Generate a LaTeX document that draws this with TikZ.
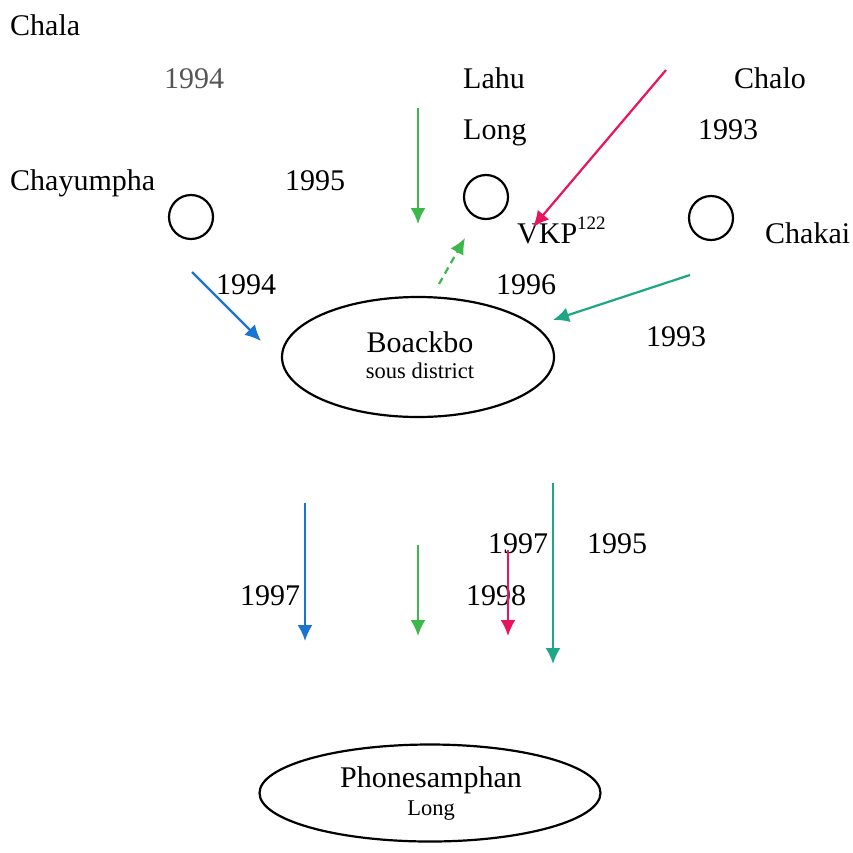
\documentclass[tikz,border=0pt]{standalone}
\usepackage{fontspec}
\setmainfont{Liberation Serif}
\usetikzlibrary{arrows.meta,shapes.geometric}
\definecolor{cblue}{HTML}{1A75D2}
\definecolor{cgreen}{HTML}{3CB84A}
\definecolor{cred}{HTML}{E8155A}
\definecolor{cteal}{HTML}{1FA686}
\definecolor{cgrey}{HTML}{555555}
\begin{document}
\begin{tikzpicture}[x=1pt,y=-1pt,
  lbl/.style={anchor=base west,inner sep=0pt,font=\fontsize{30}{34}\selectfont},
  big/.style={anchor=base,inner sep=0pt,font=\fontsize{30}{34}\selectfont},
  small/.style={anchor=base,inner sep=0pt,font=\fontsize{22.5}{26}\selectfont},
  village/.style={circle,draw,line width=2.2pt,minimum size=44pt,inner sep=0pt},
  place/.style={ellipse,draw,line width=2.2pt,inner sep=0pt},
  flow/.style={line width=2.2pt,-{Latex[length=16pt,width=15pt]}}]
\useasboundingbox (0,0) rectangle (853,852);
% labels
\node[lbl] (chala) at (10,35) {Chala};
\node[lbl,text=cgrey] (y1994a) at (164,88) {1994};
\node[lbl] (lahu) at (463,88) {Lahu};
\node[lbl] (chalo) at (734,88) {Chalo};
\node[lbl] (long) at (463,139) {Long};
\node[lbl] (y1993a) at (698,139) {1993};
\node[lbl] (chayumpha) at (10,190) {Chayumpha};
\node[lbl] (y1995a) at (285,190) {1995};
\node[lbl] (vkp) at (517,243) {VKP\raisebox{0.45em}{\fontsize{19}{22}\selectfont 122}};
\node[lbl] (chakai) at (765,243) {Chakai};
\node[lbl] (y1994b) at (216,294) {1994};
\node[lbl] (y1996) at (496,294) {1996};
\node[lbl] (y1993b) at (646,346) {1993};
\node[lbl] (y1997a) at (240,605) {1997};
\node[lbl] (y1997b) at (488,553) {1997};
\node[lbl] (y1995b) at (587,553) {1995};
\node[lbl] (y1998) at (466,605) {1998};
% villages
\node[village] (c1) at (191,217) {};
\node[village] (c2) at (486,197) {};
\node[village] (c3) at (711,218) {};
% places
\node[place,minimum width=272pt,minimum height=120pt] (boackbo) at (418,357) {};
\node[big] (boackboname) at (420,352) {Boackbo};
\node[small] (boackbosub) at (420,378) {sous district};
\node[place,minimum width=341pt,minimum height=97pt] (phone) at (430,793) {};
\node[big] (phonename) at (431,787) {Phonesamphan};
\node[small] (phonesub) at (431,815) {Long};
% arrow ends
\coordinate (g1s) at (418,108); \coordinate (g1e) at (418,224);
\coordinate (r1s) at (666,70); \coordinate (r1e) at (533,227);
\coordinate (gds) at (439,284); \coordinate (gde) at (465,238);
\coordinate (b1s) at (192,272); \coordinate (b1e) at (261,341);
\coordinate (t1s) at (690,275); \coordinate (t1e) at (553,320);
\coordinate (b2s) at (305,503); \coordinate (b2e) at (305,641);
\coordinate (g2s) at (418,545); \coordinate (g2e) at (418,636);
\coordinate (r2s) at (508,550); \coordinate (r2e) at (508,636);
\coordinate (t2s) at (553,483); \coordinate (t2e) at (553,664);
% arrows
\draw[flow,cgreen] (g1s) -- (g1e);
\draw[flow,cred] (r1s) -- (r1e);
\draw[flow,cgreen,dash pattern=on 7pt off 5pt] (gds) -- (gde);
\draw[flow,cblue] (b1s) -- (b1e);
\draw[flow,cteal] (t1s) -- (t1e);
\draw[flow,cblue] (b2s) -- (b2e);
\draw[flow,cgreen] (g2s) -- (g2e);
\draw[flow,cred] (r2s) -- (r2e);
\draw[flow,cteal] (t2s) -- (t2e);
\end{tikzpicture}
\end{document}
